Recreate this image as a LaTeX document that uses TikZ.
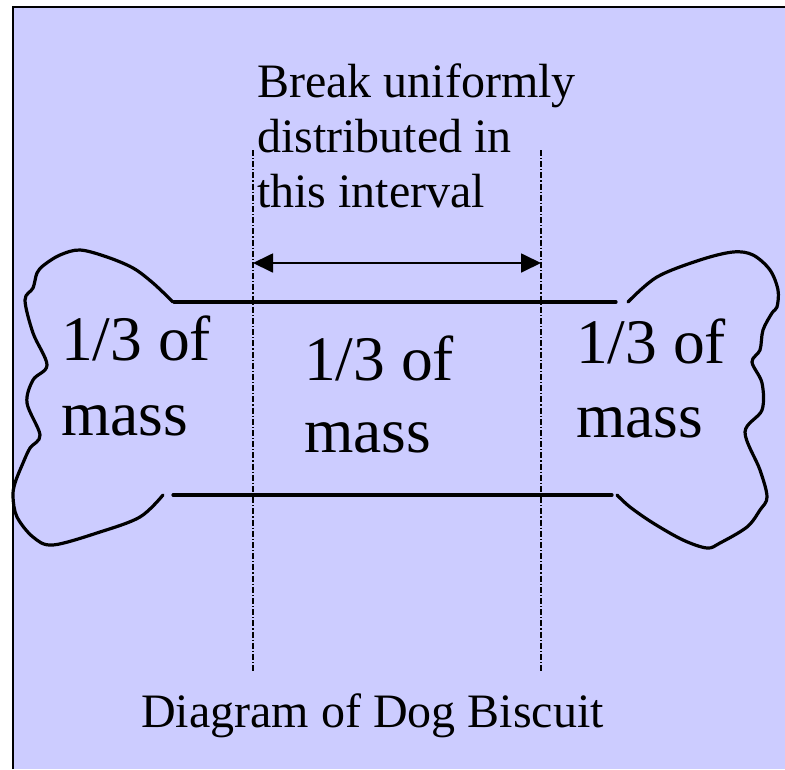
\documentclass[tikz,border=0pt]{standalone}
\usepackage{fontspec}
\setmainfont{Liberation Serif}
\usetikzlibrary{arrows.meta}
\definecolor{bgfill}{HTML}{CCCCFF}
\begin{document}
\begin{tikzpicture}[x=1pt,y=-1pt,
  bigtxt/.style={anchor=base west,inner sep=0pt,font=\fontsize{63.5}{74}\selectfont},
  smalltxt/.style={anchor=base west,inner sep=0pt,font=\fontsize{48}{55}\selectfont},
  boneline/.style={line width=3.2pt,line cap=round,line join=round},
  guide/.style={line width=1.3pt,dash pattern=on 6pt off 2pt on 1.2pt off 2pt},
  interval/.style={line width=1.8pt,{Triangle[length=20pt,width=19pt]}-{Triangle[length=20pt,width=19pt]}}]
\useasboundingbox (0,0) rectangle (785,769);
\fill[bgfill] (13,7) rectangle (785,769);
\draw[line width=1.8pt] (13,769) -- (13,7) -- (785,7);
% guide lines
\coordinate (g1top) at (253,150);
\coordinate (g1bot) at (253,673);
\coordinate (g2top) at (541,150);
\coordinate (g2bot) at (541,673);
\draw[guide] (g1top) -- (g1bot);
\draw[guide] (g2top) -- (g2bot);
\coordinate (al) at (253,263);
\coordinate (ar) at (541,263);
\draw[interval] (al) -- (ar);
% shaft lines
\coordinate (tl) at (174,302);
\coordinate (tr) at (616,302);
\coordinate (bl) at (173,495);
\coordinate (br) at (612,495);
\draw[boneline] (tl) -- (tr);
\draw[boneline] (bl) -- (br);
% left lobe
\draw[boneline] plot[smooth,tension=0.55] coordinates {
 (173,302) (153,283) (133,268) (107,257) (80,250) (60,255) (44,265) (37,273) (33,288) (25,300)
 (33,333) (47,365) (33,380) (27,403) (40,435) (30,448) (23,463) (15,483) (13,497)
 (17,517) (33,537) (53,545) (100,532) (140,517) (163,495)};
% right lobe
\draw[boneline] plot[smooth,tension=0.55] coordinates {
 (628,302) (657,277) (700,260) (733,252) (753,255) (770,270) (778,290) (777,307)
 (772,313) (763,330) (760,350) (752,362) (762,383) (762,410) (745,432) (760,470)
 (767,497) (760,510) (747,527) (720,543) (707,548) (683,540) (653,523) (630,507) (617,495)};
% texts
\node[smalltxt] (t1) at (257,97) {Break uniformly};
\node[smalltxt] (t2) at (257,152) {distributed in};
\node[smalltxt] (t3) at (257,207) {this interval};
\node[bigtxt] (la) at (61,360) {1/3 of};
\node[bigtxt] (lb) at (61,435) {mass};
\node[bigtxt] (ma) at (304,380) {1/3 of};
\node[bigtxt] (mb) at (304,452) {mass};
\node[bigtxt] (ra) at (576,363) {1/3 of};
\node[bigtxt] (rb) at (576,437) {mass};
\node[smalltxt] (cap) at (141,727) {Diagram of Dog Biscuit};
\end{tikzpicture}
\end{document}
